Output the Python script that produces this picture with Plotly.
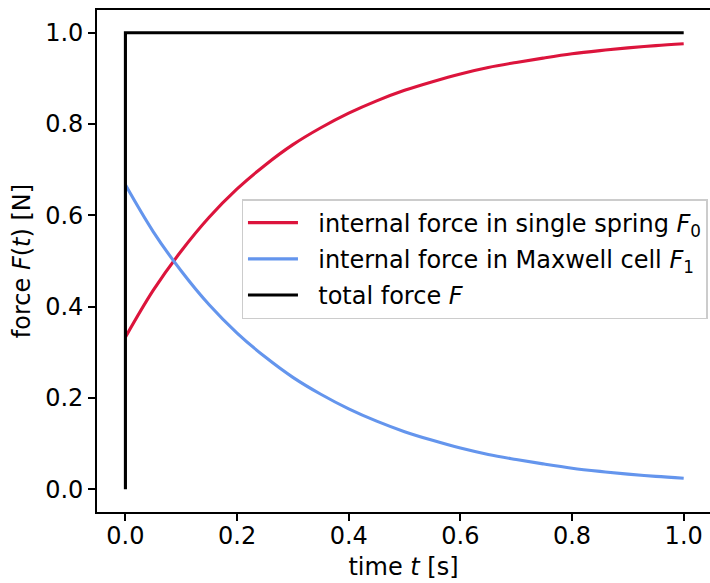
import plotly.graph_objects as go

# time samples [s]
t = [0.00, 0.05, 0.10, 0.15, 0.20, 0.25, 0.30, 0.35, 0.40, 0.45, 0.50,
     0.55, 0.60, 0.65, 0.70, 0.75, 0.80, 0.85, 0.90, 0.95, 1.00]

# internal force in the single spring F0 [N]
f_spring = [0.333, 0.436, 0.522, 0.596, 0.658, 0.710, 0.755, 0.792, 0.824, 0.851, 0.874,
            0.893, 0.910, 0.924, 0.935, 0.945, 0.954, 0.961, 0.967, 0.972, 0.976]

# internal force in the Maxwell cell F1 [N]
f_maxwell = [0.667, 0.564, 0.478, 0.404, 0.342, 0.290, 0.245, 0.208, 0.176, 0.149, 0.126,
             0.107, 0.090, 0.076, 0.065, 0.055, 0.046, 0.039, 0.033, 0.028, 0.024]

# total (step) force F [N]
t_total = [0.0, 0.0, 1.0]
f_total = [0.0, 1.0, 1.0]

tick_vals = [0.0, 0.2, 0.4, 0.6, 0.8, 1.0]
tick_text = ["0.0", "0.2", "0.4", "0.6", "0.8", "1.0"]

FONT = "DejaVu Sans"
FS = 24
LW = 3.1
PAD = "\u00a0\u00a0"  # small gap between legend line sample and label

fig = go.Figure()
fig.add_trace(go.Scatter(
    x=t, y=f_spring, mode="lines", line=dict(color="#dc143c", width=LW, shape="spline"),
    name=PAD + "internal force in single spring <i>F</i><sub>0</sub>", legendgroup="a"))
fig.add_trace(go.Scatter(
    x=t, y=f_maxwell, mode="lines", line=dict(color="#6495ed", width=LW, shape="spline"),
    name=PAD + "internal force in Maxwell cell <i>F</i><sub>1</sub>", legendgroup="b"))
fig.add_trace(go.Scatter(
    x=t_total, y=f_total, mode="lines", line=dict(color="black", width=LW),
    name=PAD + "total force <i>F</i>", legendgroup="c"))

axis_common = dict(
    showgrid=False, zeroline=False, showline=True, linecolor="black", linewidth=1.7,
    ticks="outside", ticklen=7, tickwidth=1.7, tickcolor="black",
    tickfont=dict(family=FONT, size=FS, color="black"),
    title_font=dict(family=FONT, size=FS, color="black"),
)

fig.update_layout(
    width=710, height=583,
    margin=dict(l=97, r=0, t=10, b=71, autoexpand=False),
    paper_bgcolor="white", plot_bgcolor="white",
    font=dict(family=FONT, size=FS, color="black"),
    xaxis=dict(range=[-0.0509, 1.0471], tickvals=tick_vals, ticktext=tick_text,
               mirror=True, ticklabelstandoff=-6,
               title=dict(text="time <i>t</i> [s]", standoff=10),
               **axis_common),
    yaxis=dict(range=[-0.05, 1.05], tickvals=tick_vals, ticktext=tick_text,
               mirror=False, title=dict(text="force <i>F</i>(<i>t</i>) [N]", standoff=8),
               **axis_common),
    legend=dict(x=0.236, y=0.623, xanchor="left", yanchor="top",
                bgcolor="rgba(255,255,255,0.8)", bordercolor="#cccccc", borderwidth=1.3,
                font=dict(family=FONT, size=FS, color="black"),
                tracegroupgap=2, itemwidth=50),
    showlegend=True,
)

fig.write_html("out.html")
